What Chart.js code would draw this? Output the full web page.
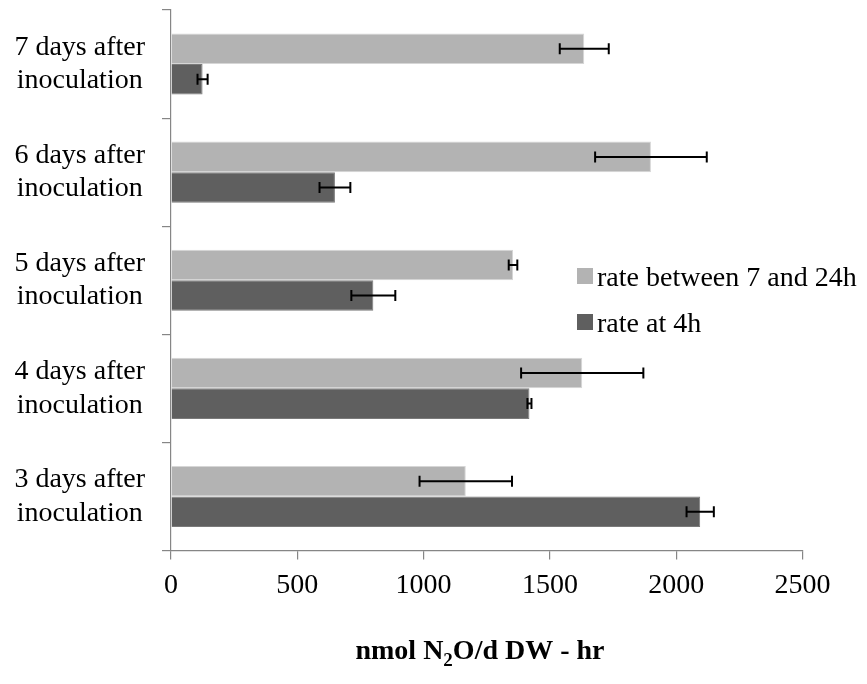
<!DOCTYPE html>
<html>
<head>
<meta charset="utf-8">
<script src="https://cdn.jsdelivr.net/npm/chart.js@4/dist/chart.umd.min.js"></script>
<style>
  body { margin: 0; background: #fff; }
  #wrap { position: relative; width: 867px; height: 684px; }
</style>
</head>
<body>
<div id="wrap"><canvas id="chart"></canvas></div>
<script>
"use strict";
// categories, top to bottom as drawn
var categories = [
    ["7 days after", "inoculation"],
    ["6 days after", "inoculation"],
    ["5 days after", "inoculation"],
    ["4 days after", "inoculation"],
    ["3 days after", "inoculation"]
];
var seriesNames = ["rate between 7 and 24h", "rate at 4h"];
var rateLate = [1636, 1900, 1354, 1628, 1167];
var rateLateErr = [97, 221, 17, 242, 183];
var rateEarly = [125, 649, 801, 1419, 2095];
var rateEarlyErr = [20, 61, 87, 8, 54];
var xTicks = [0, 500, 1000, 1500, 2000, 2500];

var serif = "'Liberation Serif', 'Times New Roman', serif";
var axisGray = '#868686';

var errorBars = {
    id: 'errorBars',
    afterDatasetsDraw: function(chart) {
        var ctx = chart.ctx;
        var xs = chart.scales.x;
        ctx.save();
        ctx.strokeStyle = '#000';
        ctx.lineWidth = 2;
        chart.data.datasets.forEach(function(ds, di) {
            var meta = chart.getDatasetMeta(di);
            meta.data.forEach(function(bar, i) {
                var v = ds.data[i], e = ds.errors[i];
                var x1 = xs.getPixelForValue(v - e), x2 = xs.getPixelForValue(v + e);
                var y = bar.y;
                ctx.beginPath();
                ctx.moveTo(x1, y); ctx.lineTo(x2, y);
                ctx.moveTo(x1, y - 5.5); ctx.lineTo(x1, y + 5.5);
                ctx.moveTo(x2, y - 5.5); ctx.lineTo(x2, y + 5.5);
                ctx.stroke();
            });
        });
        ctx.restore();
    }
};

var extras = {
    id: 'extras',
    afterDraw: function(chart) {
        var ctx = chart.ctx;
        ctx.save();
        // legend
        var rows = [{y: 268, base: 286}, {y: 314, base: 332}];
        ctx.font = '28px ' + serif;
        ctx.textBaseline = 'alphabetic';
        ctx.textAlign = 'left';
        chart.data.datasets.forEach(function(ds, i) {
            ctx.fillStyle = ds.backgroundColor;
            ctx.fillRect(577, rows[i].y, 16, 16);
            ctx.fillStyle = '#000';
            ctx.fillText(ds.label, 597, rows[i].base);
        });
        // axis title with subscript
        var big = 'bold 28px ' + serif, small = 'bold 19px ' + serif;
        var parts = [["nmol N", big, 0], ["2", small, 7], ["O/d DW - hr", big, 0]];
        var total = 0;
        parts.forEach(function(p) { ctx.font = p[1]; total += ctx.measureText(p[0]).width; });
        var x = 480 - total / 2;
        parts.forEach(function(p) {
            ctx.font = p[1];
            ctx.fillText(p[0], x, 659 + p[2]);
            x += ctx.measureText(p[0]).width;
        });
        ctx.restore();
    }
};

new Chart(document.getElementById('chart').getContext('2d'), {
    type: 'bar',
    data: {
        labels: categories,
        datasets: [{
            label: seriesNames[0],
            data: rateLate,
            errors: rateLateErr,
            backgroundColor: '#b3b3b3',
            borderColor: '#d6d6d6',
            borderWidth: 1,
            categoryPercentage: 0.565,
            barPercentage: 1
        }, {
            label: seriesNames[1],
            data: rateEarly,
            errors: rateEarlyErr,
            backgroundColor: '#5f5f5f',
            borderColor: '#7a7a7a',
            borderWidth: 1,
            categoryPercentage: 0.565,
            barPercentage: 1
        }]
    },
    options: {
        indexAxis: 'y',
        responsive: true,
        maintainAspectRatio: false,
        animation: false,
        layout: { padding: { top: 10, right: 64.5, left: 0, bottom: 0 } },
        plugins: {
            legend: { display: false },
            tooltip: { enabled: false }
        },
        scales: {
            x: {
                min: 0,
                max: 2500,
                afterBuildTicks: function(scale) {
                    scale.ticks = xTicks.map(function(v) { return {value: v}; });
                },
                afterFit: function(scale) { scale.height = 133.5; },
                grid: { drawOnChartArea: false, color: axisGray, tickLength: 9, lineWidth: 1.2 },
                border: { color: axisGray, width: 1.2 },
                ticks: {
                    color: '#000',
                    padding: 9,
                    font: { family: serif, size: 28, lineHeight: 1.2 },
                    callback: function(v) { return String(v); }
                }
            },
            y: {
                afterFit: function(scale) {
                    scale.width = 171;
                    scale.paddingTop = 0;
                    scale.paddingBottom = 0;
                },
                grid: { drawOnChartArea: false, color: axisGray, tickLength: 9, lineWidth: 1.2, offset: true },
                border: { color: axisGray, width: 1.2 },
                ticks: {
                    color: '#000',
                    padding: 17,
                    crossAlign: 'center',
                    font: { family: serif, size: 28, lineHeight: 1.2 }
                }
            }
        }
    },
    plugins: [errorBars, extras]
});
</script>
</body>
</html>
